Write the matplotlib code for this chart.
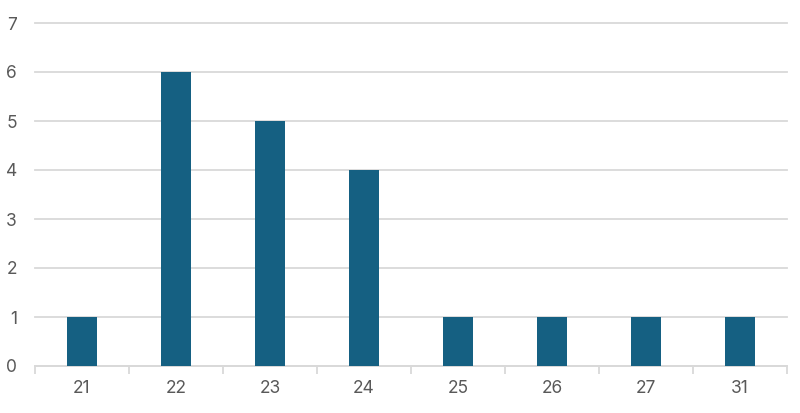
import numpy as np
import matplotlib.pyplot as plt

categories = ['21', '22', '23', '24', '25', '26', '27', '31']
counts = [1, 6, 5, 4, 1, 1, 1, 1]

plt.rcParams['font.family'] = ['Inter', 'DejaVu Sans']

fig, ax = plt.subplots(figsize=(8, 4.13), dpi=100)
fig.subplots_adjust(left=35 / 800, right=787 / 800, top=1 - 23 / 413, bottom=1 - 366 / 413)

x = np.arange(len(categories))
ax.bar(x, counts, width=0.32, color='#156082', zorder=3)

ax.set_xlim(-0.5, len(categories) - 0.5)
ax.set_ylim(0, 7)
ax.set_yticks(range(8))
ax.yaxis.grid(True, color='#d9d9d9', linewidth=1.3, zorder=0)
for gl in ax.get_ygridlines():
    gl.set_clip_on(False)

ax.set_xticks(x)
ax.set_xticklabels(categories)
ax.set_xticks(np.arange(-0.5, len(categories)), minor=True)
ax.tick_params(axis='x', which='major', length=0, pad=10, labelsize=12.5, labelcolor='#595959')
ax.tick_params(axis='x', which='minor', length=6, color='#d9d9d9', width=1.3)
ax.tick_params(axis='y', length=0, pad=13, labelsize=12.5, labelcolor='#595959')

for side in ['top', 'right', 'left']:
    ax.spines[side].set_visible(False)
ax.spines['bottom'].set_color('#d9d9d9')
ax.spines['bottom'].set_linewidth(1.3)

fig.savefig('out.png')
